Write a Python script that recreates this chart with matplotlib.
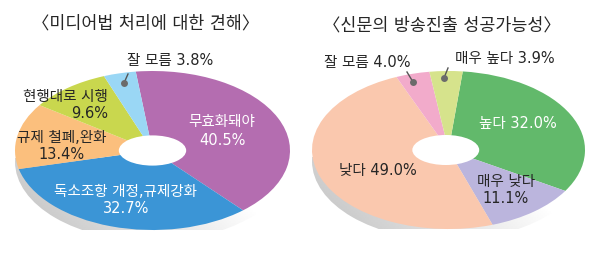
import matplotlib
matplotlib.use("Agg")
import matplotlib.pyplot as plt
import numpy as np
from matplotlib.patches import Ellipse
from matplotlib.lines import Line2D

plt.rcParams['font.family'] = ['DejaVu Sans', 'Noto Sans CJK KR']

# ---- data ----
left_title = "〈미디어법 처리에 대한 견해〉"
left_labels = ["무효화돼야", "독소조항 개정,규제강화", "규제 철폐,완화", "현행대로 시행", "잘 모름"]
left_values = [40.5, 32.7, 13.4, 9.6, 3.8]
left_colors = ["#B46DB0", "#3B95D6", "#FBBF7D", "#C9D74E", "#9AD7F5"]

right_title = "〈신문의 방송진출 성공가능성〉"
right_labels = ["높다", "매우 낮다", "낮다", "잘 모름", "매우 높다"]
right_values = [32.0, 11.1, 49.0, 4.0, 3.9]
right_colors = ["#62B96B", "#BBB5DD", "#FAC8AE", "#F2ABCB", "#D6E38C"]

W, H = 600, 257
fig = plt.figure(figsize=(W / 100, H / 100), dpi=100)
fig.patch.set_facecolor("white")


def px(x, y):
    return x / W, 1 - y / H


def make_pie(x0, x1, y0, y1, values, colors, start, hole_c):
    ax = fig.add_axes([x0 / W, 1 - y1 / H, (x1 - x0) / W, (y1 - y0) / H])
    ax.set_axis_off()
    # depth (3D side)
    depth = Ellipse((0, -0.14), 2, 2, transform=ax.transData)
    grad = np.linspace(0.74, 1.0, 256)[None, :]
    vert = np.linspace(0.0, 1.0, 40)[:, None]
    img = np.clip(grad + 0.08 * (1 - vert), 0, 1)
    im = ax.imshow(img, cmap="gray", vmin=0, vmax=1, extent=(-1, 1, -1.2, -0.1),
                   aspect="auto", zorder=0, clip_on=True)
    ax.add_patch(depth)
    depth.set_visible(False)
    im.set_clip_path(depth)
    ax.pie(values, colors=colors, startangle=start, counterclock=False,
           radius=1, wedgeprops=dict(linewidth=0, zorder=2))
    ax.add_patch(Ellipse(hole_c, 0.49, 0.38, facecolor="white", edgecolor="none", zorder=3))
    ax.set_aspect("auto")
    ax.set_xlim(-1, 1)
    ax.set_ylim(-1, 1)
    return ax


axL = make_pie(15, 290, 71, 230, left_values, left_colors, 97, (0.0, 0.0))
axR = make_pie(312, 585, 71, 229, right_values, right_colors, 84, (-0.02, 0.0))

fs = 10.5
tfs = 12.5
dark = "#262626"
ls = 1.2


def txt(x, y, s, color=dark, size=fs, ha="center", spacing=ls):
    fig.text(*px(x, y), s, color=color, fontsize=size, ha=ha, va="center",
             linespacing=spacing)


# titles
txt(146, 24, left_title, size=tfs)
txt(442, 25, right_title, size=tfs)

# left labels
txt(222, 131, f"{left_labels[0]}\n{left_values[0]}%", color="white", spacing=1.35)
txt(126, 200, f"{left_labels[1]}\n{left_values[1]}%", color="white")
txt(62, 146, f"{left_labels[2]}\n{left_values[2]}%")
fig.text(*px(108, 105), f"{left_labels[3]}\n{left_values[3]}%", color=dark, fontsize=fs,
         ha="right", va="center", multialignment="right", linespacing=ls)
txt(170, 60, f"{left_labels[4]} {left_values[4]}%")

# right labels
txt(518, 123, f"{right_labels[0]} {right_values[0]}%", color="white")
txt(506, 190, f"{right_labels[1]}\n{right_values[1]}%")
txt(378, 170, f"{right_labels[2]} {right_values[2]}%")
txt(367, 62, f"{right_labels[3]} {right_values[3]}%")
txt(505, 58, f"{right_labels[4]} {right_values[4]}%")

# leader lines with dots
for (xa, ya, xb, yb) in [(128, 74, 124, 83), (407, 72, 413, 82), (448, 68, 444, 78)]:
    xa_, ya_ = px(xa, ya)
    xb_, yb_ = px(xb, yb)
    fig.add_artist(Line2D([xa_, xb_], [ya_, yb_], color="#555555", lw=1, transform=fig.transFigure))
    fig.add_artist(Line2D([xb_], [yb_], marker="o", markersize=5, color="#6b6b6b",
                          markeredgewidth=0, transform=fig.transFigure))

fig.savefig("out.png", dpi=100, facecolor="white")
